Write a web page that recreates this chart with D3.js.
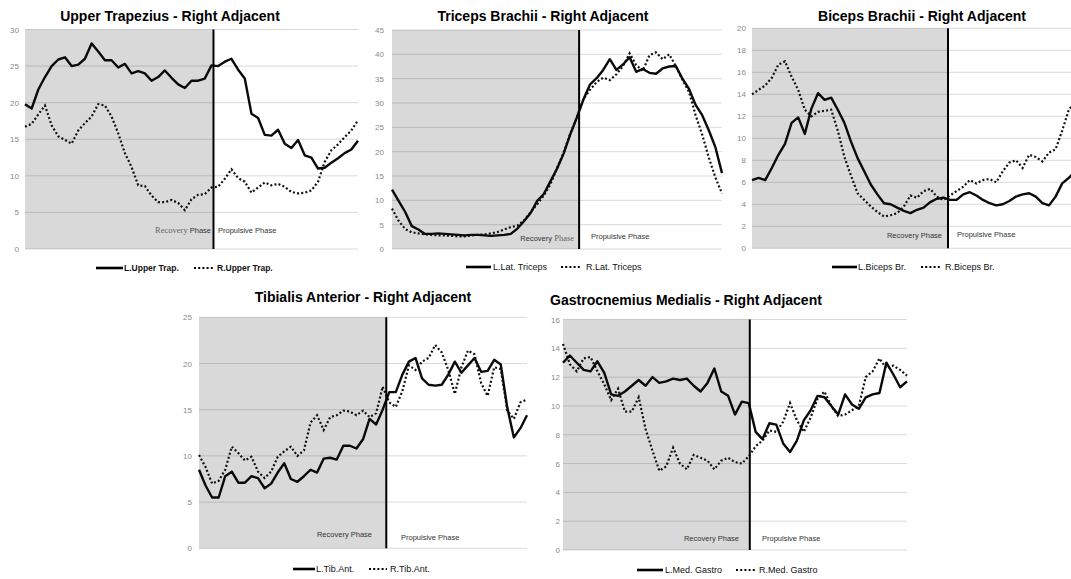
<!DOCTYPE html>
<html>
<head>
<meta charset="utf-8">
<script src="https://cdn.jsdelivr.net/npm/d3@7/dist/d3.min.js"></script>
<style>
  body { margin: 0; background: #fff; }
  svg { display: block; font-family: "Liberation Sans", Arial, sans-serif; }
</style>
</head>
<body>
<svg id="chart" width="1071" height="579"></svg>
<script>
// EMG envelopes, one value every 2% of the stroke cycle (0..100%)
var trapL = [19.8,19.2,21.8,23.5,25.0,25.9,26.2,25.0,25.2,26.0,28.1,27.0,25.8,25.8,24.8,25.3,24.0,24.3,24.0,23.0,
             23.5,24.4,23.4,22.5,22.0,23.0,23.0,23.3,25.1,25.0,25.6,26.0,24.5,23.3,18.5,17.9,15.6,15.5,16.3,14.4,
             13.8,14.9,12.8,12.5,11.0,11.1,11.8,12.4,13.1,13.6,14.8];
var trapR = [16.7,17.1,18.4,19.6,16.9,15.4,14.9,14.4,16.2,17.2,18.1,19.8,19.6,18.1,15.8,13.1,11.2,8.7,8.6,7.3,
             6.4,6.4,6.7,6.3,5.3,6.8,7.4,7.5,8.4,8.5,9.6,10.9,9.7,9.2,7.7,8.4,9.1,8.7,8.9,8.5,
             7.8,7.6,7.7,8.0,9.2,11.9,13.5,14.3,15.3,16.2,17.6];

var tricL = [12.2,9.9,7.6,4.7,4.0,3.1,3.1,3.2,3.1,3.0,2.9,2.8,2.9,2.9,2.8,2.7,2.8,2.9,3.1,4.2,
             5.7,7.4,9.9,11.3,13.9,16.5,19.6,23.5,27.0,30.7,33.8,35.1,36.8,39.0,36.8,37.9,39.4,36.4,37.0,36.2,
             36.0,37.1,37.5,37.6,35.0,32.9,29.6,27.5,24.4,20.9,15.6];
var tricR = [8.3,5.8,4.1,3.4,3.2,3.0,2.9,2.8,2.8,2.7,2.6,2.6,2.8,2.9,3.0,3.2,3.5,4.0,4.5,4.8,
             5.9,7.6,9.2,11.0,13.3,16.6,19.8,23.7,27.0,30.8,32.7,34.3,35.2,34.7,35.9,37.6,40.2,37.8,36.6,39.8,
             40.4,39.0,40.0,37.6,34.8,32.3,27.5,23.5,18.8,14.7,11.4];

var bicL = [6.2,6.4,6.2,7.3,8.5,9.5,11.4,11.9,10.4,12.7,14.1,13.5,13.7,12.6,11.4,9.7,8.2,7.0,5.8,4.9,
            4.1,4.0,3.7,3.4,3.2,3.5,3.7,4.2,4.5,4.6,4.4,4.4,4.9,5.1,4.8,4.4,4.1,3.9,4.0,4.3,
            4.7,4.9,5.0,4.7,4.1,3.9,4.7,5.9,6.4,7.0,7.6];
var bicR = [14.0,14.4,14.8,15.5,16.7,17.0,15.6,14.4,12.6,12.0,12.4,12.5,12.6,10.7,8.3,6.6,5.0,4.4,3.8,3.3,
            2.9,3.0,3.2,3.8,4.8,4.6,5.2,5.4,4.7,4.4,4.8,5.2,5.6,6.2,5.9,6.2,6.3,6.0,7.0,7.8,
            8.0,7.3,8.5,8.3,7.9,8.7,9.0,10.7,12.6,13.3,14.0];

var tibL = [8.5,6.8,5.5,5.5,7.8,8.3,7.1,7.1,7.8,7.6,6.5,7.0,8.2,9.2,7.5,7.2,7.8,8.5,8.2,9.7,
            9.8,9.6,11.1,11.1,10.8,11.8,14.0,13.4,15.0,16.9,16.9,18.8,20.2,20.6,18.4,17.7,17.6,17.7,18.8,20.2,
            19.0,19.8,20.6,19.1,19.2,20.4,19.9,15.2,12.0,13.0,14.4];
var tibR = [10.1,8.8,7.0,7.3,8.5,11.0,10.3,9.5,9.9,8.3,7.6,8.3,9.9,10.5,11.0,10.0,10.6,13.6,14.4,12.8,
            14.2,14.4,14.9,14.8,14.4,14.9,14.2,14.6,17.5,15.8,15.3,17.0,19.8,19.3,20.2,20.6,22.0,21.2,19.3,16.7,
            19.6,21.4,21.0,17.9,16.5,19.6,19.4,14.9,14.0,15.8,16.1];

var gasL = [13.0,13.5,13.0,12.5,12.4,13.1,12.3,10.8,10.7,11.0,11.4,11.8,11.4,12.0,11.6,11.7,11.9,11.8,11.9,11.4,
            11.0,11.6,12.6,11.0,10.7,9.4,10.3,10.2,8.2,7.7,8.8,8.7,7.4,6.8,7.6,9.0,9.7,10.7,10.6,10.0,
            9.4,10.8,10.1,9.8,10.6,10.8,10.9,13.0,12.2,11.3,11.7];
var gasR = [14.3,12.9,12.4,13.3,13.4,12.4,11.5,10.4,11.2,9.6,9.6,10.6,8.4,6.9,5.5,5.8,7.1,6.0,5.6,6.6,
            6.4,6.2,5.6,6.2,6.4,6.1,6.0,6.5,7.2,7.6,8.3,8.2,8.9,10.2,9.0,8.2,9.2,10.5,11.0,10.0,
            9.3,9.4,9.7,10.0,12.0,12.4,13.3,12.6,12.8,12.5,12.1];

// end of recovery phase, % of cycle
var phaseSplit = [56.6, 56.7, 59.4, 57.1, 54.3];

var titles = ["Upper Trapezius - Right Adjacent", "Triceps Brachii - Right Adjacent",
              "Biceps Brachii - Right Adjacent", "Tibialis Anterior - Right Adjacent",
              "Gastrocnemius Medialis - Right Adjacent"];
var legendNames = [["L.Upper Trap.", "R.Upper Trap."], ["L.Lat. Triceps", "R.Lat. Triceps"],
                   ["L.Biceps Br.", "R.Biceps Br."], ["L.Tib.Ant.", "R.Tib.Ant."],
                   ["L.Med. Gastro", "R.Med. Gastro"]];

var ticksTrap = [0, 5, 10, 15, 20, 25, 30];
var ticksTric = [0, 5, 10, 15, 20, 25, 30, 35, 40, 45];
var ticksBic = [0, 2, 4, 6, 8, 10, 12, 14, 16, 18, 20];
var ticksTib = [0, 5, 10, 15, 20, 25];
var ticksGas = [0, 2, 4, 6, 8, 10, 12, 14, 16];

// layout of each small chart
// legend: solid x1, x2, text x, dotted x1, x2, text x, y
var panels = [
  { series: [trapL, trapR], ticks: ticksTrap,
    box: [25, 358, 29.5, 249], labelX: 19, titleX: 170, titleY: 21,
    legend: [96, 123, 124, 194, 214, 217, 268], legendBold: true,
    phase: [211, 233, 218, 233], serif: "recovery" },
  { series: [tricL, tricR], ticks: ticksTric,
    box: [392, 722, 30, 249], labelX: 384, titleX: 543, titleY: 21,
    legend: [466, 491, 493, 561, 581, 586, 267],
    phase: [574, 241, 591, 239], serif: "phase" },
  { series: [bicL, bicR], ticks: ticksBic,
    box: [752, 1082, 28.3, 248.3], labelX: 746, titleX: 922, titleY: 21,
    legend: [832, 857, 858, 921, 941, 945, 267],
    phase: [942, 238, 957, 237] },
  { series: [tibL, tibR], ticks: ticksTib,
    box: [199, 527, 317.3, 548.3], labelX: 192, titleX: 363, titleY: 302,
    legend: [293, 315, 316, 369, 387, 390, 569],
    phase: [372, 537, 401, 540] },
  { series: [gasL, gasR], ticks: ticksGas,
    box: [563, 907, 319.5, 550], labelX: 560, titleX: 686, titleY: 305,
    legend: [637, 663, 665, 736, 755, 759, 570],
    phase: [739, 541, 762, 541] }
];

var svg = d3.select("#chart");

panels.forEach(function(p, k) {
  var g = svg.append("g");
  var n = p.series[0].length;
  var x = d3.scaleLinear().domain([0, 100]).range([p.box[0], p.box[1]]);
  var y = d3.scaleLinear().domain([0, d3.max(p.ticks)]).range([p.box[3], p.box[2]]);
  var xs = x(phaseSplit[k]);

  // recovery phase shading
  g.append("rect")
    .attr("x", x(0)).attr("y", y(d3.max(p.ticks)))
    .attr("width", xs - x(0)).attr("height", y(0) - y(d3.max(p.ticks)))
    .style("fill", "#d9d9d9");

  // grid
  g.selectAll(".grid").data(p.ticks).enter().append("line")
    .attr("class", "grid")
    .attr("x1", x(0)).attr("x2", x(100))
    .attr("y1", function(d) { return y(d); })
    .attr("y2", function(d) { return y(d); })
    .style("stroke", "rgba(0,0,0,0.15)").style("stroke-width", 1);

  // y axis labels
  var ax = g.append("g").attr("transform", "translate(" + p.labelX + ",0)")
    .call(d3.axisLeft(y).tickValues(p.ticks).tickSize(0).tickPadding(0));
  ax.select(".domain").remove();
  ax.selectAll("text").style("font-size", "8px").style("fill", "#8a8a8a")
    .style("font-family", "'Liberation Sans', Arial, sans-serif");

  var line = d3.line()
    .x(function(d, i) { return x(i * 100 / (n - 1)); })
    .y(function(d) { return y(d); });

  g.append("path").datum(p.series[1]).attr("d", line)
    .style("fill", "none").style("stroke", "#111").style("stroke-width", 2.2)
    .style("stroke-dasharray", "2,2.2");
  g.append("path").datum(p.series[0]).attr("d", line)
    .style("fill", "none").style("stroke", "#0a0a0a").style("stroke-width", 2.4)
    .style("stroke-linejoin", "round");

  // phase boundary
  g.append("line")
    .attr("x1", xs).attr("x2", xs)
    .attr("y1", y(d3.max(p.ticks))).attr("y2", y(0))
    .style("stroke", "#000").style("stroke-width", 2);

  // phase labels
  var rec = g.append("text").attr("x", p.phase[0]).attr("y", p.phase[1])
    .attr("text-anchor", "end").style("font-size", "7.5px").style("fill", "#333");
  rec.append("tspan").text("Recovery")
    .style("font-family", p.serif == "recovery" ? "'Liberation Serif', serif" : null)
    .style("fill", p.serif == "recovery" ? "#666" : null)
    .style("font-size", p.serif == "recovery" ? "8.5px" : null);
  rec.append("tspan").text(" Phase")
    .style("font-family", p.serif == "phase" ? "'Liberation Serif', serif" : null)
    .style("fill", p.serif == "phase" ? "#666" : null)
    .style("font-size", p.serif == "phase" ? "8.5px" : null);
  g.append("text").attr("x", p.phase[2]).attr("y", p.phase[3])
    .style("font-size", "7.5px").style("fill", "#333").text("Propulsive Phase");

  // title
  g.append("text").attr("x", p.titleX).attr("y", p.titleY)
    .attr("text-anchor", "middle")
    .style("font-size", "14px").style("font-weight", "bold").style("fill", "#000")
    .text(titles[k]);

  // legend
  var L = p.legend;
  g.append("line").attr("x1", L[0]).attr("x2", L[1]).attr("y1", L[6]).attr("y2", L[6])
    .style("stroke", "#000").style("stroke-width", 2.6);
  g.append("line").attr("x1", L[3]).attr("x2", L[4]).attr("y1", L[6]).attr("y2", L[6])
    .style("stroke", "#000").style("stroke-width", 2.2).style("stroke-dasharray", "2,2.2");
  [[L[2], legendNames[k][0]], [L[5], legendNames[k][1]]].forEach(function(t) {
    g.append("text").attr("x", t[0]).attr("y", L[6]).attr("dy", "0.35em")
      .style("font-size", p.legendBold ? "8.5px" : "9px")
      .style("font-weight", p.legendBold ? "bold" : "normal")
      .style("fill", "#111").text(t[1]);
  });
});
</script>
</body>
</html>
